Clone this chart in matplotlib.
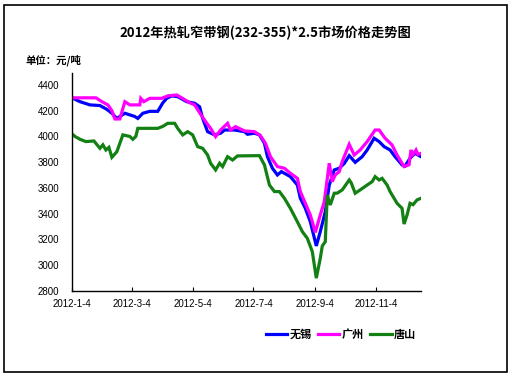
import matplotlib
matplotlib.use("Agg")
import matplotlib.pyplot as plt
import matplotlib.patches as mpatches
import pandas as pd

plt.rcParams['font.family'] = ['Liberation Sans', 'Noto Sans CJK SC', 'DejaVu Sans']

title = "2012年热轧窄带钢(232-355)*2.5市场价格走势图"
unit_label = "单位：元/吨"

wuxi_dates = ["2012-01-04", "2012-01-12", "2012-01-22", "2012-02-01", "2012-02-08", "2012-02-13",
              "2012-02-18", "2012-02-26", "2012-03-07", "2012-03-10", "2012-03-15", "2012-03-22",
              "2012-03-30", "2012-04-04", "2012-04-08", "2012-04-13", "2012-04-19", "2012-04-28",
              "2012-05-06", "2012-05-11", "2012-05-14", "2012-05-19", "2012-05-26", "2012-06-01",
              "2012-06-05", "2012-06-15", "2012-06-25", "2012-06-28", "2012-07-05", "2012-07-10",
              "2012-07-15", "2012-07-18", "2012-07-23", "2012-07-28", "2012-08-01", "2012-08-10",
              "2012-08-17", "2012-08-20", "2012-08-25", "2012-08-30", "2012-09-05", "2012-09-09",
              "2012-09-14", "2012-09-18", "2012-09-23", "2012-09-28", "2012-10-03", "2012-10-08",
              "2012-10-14", "2012-10-21", "2012-10-26", "2012-11-02", "2012-11-07", "2012-11-12",
              "2012-11-18", "2012-11-23", "2012-11-30", "2012-12-03", "2012-12-08", "2012-12-13",
              "2012-12-19"]
wuxi_values = [4300, 4270, 4245, 4240, 4210, 4180,
               4140, 4180, 4155, 4140, 4180, 4195,
               4195, 4260, 4296, 4315, 4309, 4270,
               4258, 4230, 4141, 4037, 4012, 4025,
               4050, 4050, 4037, 4017, 4025, 4012,
               3947, 3843, 3753, 3701, 3727, 3688,
               3623, 3520, 3442, 3338, 3150, 3261,
               3416, 3623, 3740, 3753, 3790, 3851,
               3799, 3843, 3895, 3986, 3960, 3921,
               3895, 3843, 3779, 3770, 3831, 3869,
               3843]

gz_dates = ["2012-01-04", "2012-01-28", "2012-02-03", "2012-02-09", "2012-02-13", "2012-02-16",
            "2012-02-21", "2012-02-26", "2012-03-02", "2012-03-12", "2012-03-13", "2012-03-16",
            "2012-03-22", "2012-04-03", "2012-04-09", "2012-04-18", "2012-04-23", "2012-05-01",
            "2012-05-06", "2012-05-12", "2012-05-17", "2012-05-22", "2012-05-27", "2012-06-01",
            "2012-06-08", "2012-06-11", "2012-06-16", "2012-06-25", "2012-07-05", "2012-07-11",
            "2012-07-16", "2012-07-21", "2012-07-28", "2012-08-04", "2012-08-10", "2012-08-17",
            "2012-08-20", "2012-08-25", "2012-08-30", "2012-09-04", "2012-09-08", "2012-09-13",
            "2012-09-18", "2012-09-21", "2012-09-24", "2012-09-28", "2012-10-01", "2012-10-08",
            "2012-10-13", "2012-10-19", "2012-10-26", "2012-11-03", "2012-11-07", "2012-11-13",
            "2012-11-20", "2012-11-25", "2012-12-02", "2012-12-07", "2012-12-09", "2012-12-11",
            "2012-12-14", "2012-12-16", "2012-12-19"]
gz_values = [4300, 4300, 4270, 4245, 4200, 4136,
             4136, 4270, 4245, 4245, 4296, 4270,
             4296, 4296, 4315, 4322, 4300, 4262,
             4245, 4172, 4115, 4063, 3999, 4050,
             4102, 4050, 4076, 4043, 4037, 4006,
             3947, 3843, 3766, 3753, 3714, 3675,
             3572, 3481, 3390, 3255, 3364, 3494,
             3792, 3649, 3701, 3727, 3805, 3939,
             3856, 3895, 3960, 4050, 4050, 3986,
             3934, 3856, 3766, 3780, 3895, 3860,
             3895, 3860, 3869]

ts_dates = ["2012-01-04", "2012-01-07", "2012-01-12", "2012-01-18", "2012-01-26", "2012-02-01",
            "2012-02-04", "2012-02-07", "2012-02-10", "2012-02-13", "2012-02-18", "2012-02-24",
            "2012-03-02", "2012-03-05", "2012-03-08", "2012-03-10", "2012-03-30", "2012-04-04",
            "2012-04-09", "2012-04-16", "2012-04-19", "2012-04-24", "2012-04-29", "2012-05-04",
            "2012-05-09", "2012-05-14", "2012-05-19", "2012-05-22", "2012-05-27", "2012-05-31",
            "2012-06-03", "2012-06-08", "2012-06-13", "2012-06-18", "2012-07-10", "2012-07-15",
            "2012-07-20", "2012-07-25", "2012-07-30", "2012-08-04", "2012-08-10", "2012-08-17",
            "2012-08-22", "2012-08-27", "2012-09-01", "2012-09-05", "2012-09-09", "2012-09-11",
            "2012-09-14", "2012-09-16", "2012-09-19", "2012-09-23", "2012-09-26", "2012-10-01",
            "2012-10-08", "2012-10-10", "2012-10-14", "2012-10-19", "2012-10-26", "2012-10-31",
            "2012-11-03", "2012-11-07", "2012-11-10", "2012-11-15", "2012-11-18", "2012-11-25",
            "2012-11-30", "2012-12-02", "2012-12-05", "2012-12-08", "2012-12-11", "2012-12-15",
            "2012-12-19"]
ts_values = [4019, 4000, 3978, 3960, 3965, 3908,
             3935, 3895, 3915, 3838, 3882, 4012,
             4000, 3978, 4000, 4063, 4063, 4078,
             4102, 4102, 4063, 4012, 4037, 4012,
             3921, 3908, 3856, 3792, 3740, 3792,
             3766, 3843, 3817, 3849, 3851, 3779,
             3623, 3572, 3572, 3520, 3442, 3338,
             3261, 3209, 3105, 2900, 3054, 3150,
             3183, 3546, 3468, 3559, 3560, 3585,
             3662, 3640, 3559, 3585, 3623, 3649,
             3688, 3662, 3675, 3623, 3572, 3481,
             3442, 3320, 3390, 3481, 3470, 3507,
             3520]

series_names = ["无锡", "广州", "唐山"]
series_colors = ["#0000FF", "#FF00FF", "#138013"]

x_tick_labels = ["2012-1-4", "2012-3-4", "2012-5-4", "2012-7-4", "2012-9-4", "2012-11-4"]
y_ticks = [2800, 3000, 3200, 3400, 3600, 3800, 4000, 4200, 4400]

fig = plt.figure(figsize=(5.12, 3.84), dpi=100)
fig.patch.set_facecolor("white")
ax = fig.add_axes([72/512, 1-291/384, (421-72)/512, (291-72.7)/384])

all_dates = [wuxi_dates, gz_dates, ts_dates]
all_vals = [wuxi_values, gz_values, ts_values]
lines = []
for d, v, n, c in zip(all_dates, all_vals, series_names, series_colors):
    ln, = ax.plot(pd.to_datetime(d), v, color=c, lw=2.3, label=n, solid_joinstyle='miter')
    lines.append(ln)

ax.set_xlim(pd.Timestamp("2012-01-04"), pd.Timestamp("2012-12-19"))
ax.set_ylim(2800, 4495)
ax.set_yticks(y_ticks)
ax.set_yticklabels([str(t) for t in y_ticks], fontsize=7)
ax.set_xticks(pd.to_datetime(["2012-01-04", "2012-03-04", "2012-05-04", "2012-07-04", "2012-09-04", "2012-11-04"]))
ax.set_xticklabels(x_tick_labels, fontsize=7)
ax.tick_params(axis='y', length=0, pad=9)
ax.tick_params(axis='x', direction='in', length=3, pad=6, width=0.8)
for s in ['top', 'right']:
    ax.spines[s].set_visible(False)
for s in ['left', 'bottom']:
    ax.spines[s].set_linewidth(1.0)
    ax.spines[s].set_color('black')

fig.text(265/512, 1-33/384, title, ha='center', va='center', fontsize=9.5,
         fontweight='bold', family=['Noto Sans CJK SC', 'DejaVu Sans'])
fig.text(25/512, 1-60/384, unit_label, ha='left', va='center', fontsize=7.5,
         fontweight='bold', family=['Noto Sans CJK SC', 'DejaVu Sans'])

fig.legend(handles=lines, loc='center', bbox_to_anchor=(341/512, 1-334/384), ncol=3,
           frameon=False, handlelength=1.9, handletextpad=0.2, columnspacing=0.6,
           prop={'family': ['Noto Sans CJK SC'], 'weight': 'bold', 'size': 8})

border = mpatches.Rectangle((4/512, 1-372/384), 503/512, 367/384, transform=fig.transFigure,
                            fill=False, edgecolor='black', linewidth=1.2)
fig.patches.append(border)

fig.savefig("out.png", dpi=100)
